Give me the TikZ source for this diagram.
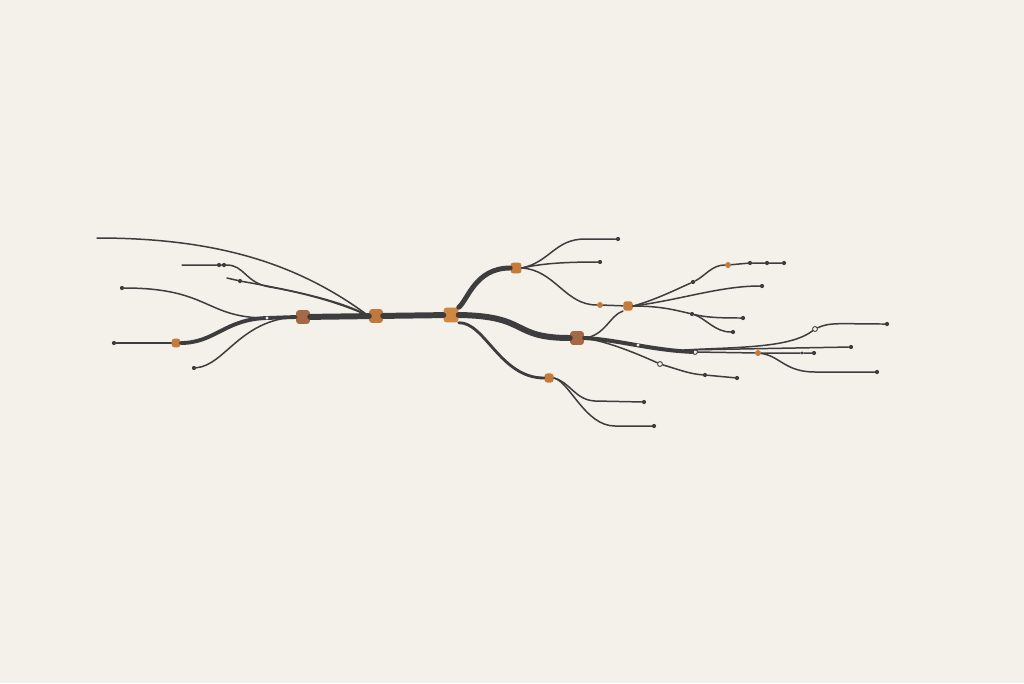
\documentclass[tikz,border=0pt]{standalone}
\usepackage{tikz}
\definecolor{paper}{HTML}{F4F0EA}
\definecolor{wire}{HTML}{3D3D3D}
\definecolor{amber}{HTML}{C57B3B}
\definecolor{rust}{HTML}{A56A45}
\definecolor{light}{HTML}{CF8844}

\begin{document}
\begin{tikzpicture}[x=0.02cm,y=-0.02cm,line cap=round,
  hub/.style={rectangle,rounded corners=1.6pt,fill=amber,inner sep=0pt,minimum size=7.8pt},
  knot/.style={circle,fill=amber,inner sep=0pt,minimum size=3.4pt},
  tip/.style={circle,fill=wire,inner sep=0pt,minimum size=2.4pt},
  ring/.style={circle,fill=paper,draw=wire,line width=0.5pt,inner sep=0pt,minimum size=2.8pt},
  spot/.style={circle,fill=paper,inner sep=0pt,minimum size=1.8pt},
  twig/.style={draw=wire,line width=0.85pt},
  limb/.style={draw=wire,line width=2.8pt},
  trunk/.style={draw=wire,line width=3.4pt}]
\fill[paper] (0,0) rectangle (1024,683);
\useasboundingbox (0,0) rectangle (1024,683);
% hubs
\node[hub,minimum size=5pt] (hA) at (176,343) {};
\node[hub,fill=rust] (hB) at (303,317) {};
\node[hub,fill=amber!85!rust] (hC) at (376,316) {};
\node[hub,fill=light,minimum size=8.4pt] (hD) at (451,315) {};
\node[hub,minimum size=6.2pt] (hE) at (516,268) {};
\node[hub,fill=rust] (hF) at (577,338) {};
\node[hub,minimum size=5.4pt] (hG) at (628,306) {};
\node[hub,minimum size=5.2pt] (hH) at (549,378) {};
\node[knot] (oA) at (600,305) {};
\node[knot] (oB) at (728,265) {};
\node[knot] (oC) at (758,353) {};
% end dots
\node[tip] (d1) at (114,343) {};
\node[tip] (d2) at (122,288) {};
\node[tip] (d3) at (194,368) {};
\node[tip] (d4) at (219,265) {};
\node[tip] (d5) at (224,265) {};
\node[tip] (d6) at (240,281) {};
\node[tip] (d7) at (618,239) {};
\node[tip] (d8) at (600,262) {};
\node[tip] (d9) at (693,282) {};
\node[tip] (d10) at (750,263) {};
\node[tip] (d11) at (767,263) {};
\node[tip] (d12) at (784,263) {};
\node[tip] (d13) at (762,286) {};
\node[tip] (d14) at (692,314) {};
\node[tip] (d15) at (743,318) {};
\node[tip] (d16) at (733,332) {};
\node[tip] (d17) at (887,324) {};
\node[tip] (d18) at (851,347) {};
\node[tip] (d19) at (814,353) {};
\node[tip,minimum size=1.8pt] (d20) at (802,353) {};
\node[tip] (d21) at (877,372) {};
\node[tip] (d22) at (705,375) {};
\node[tip] (d23) at (737,378) {};
\node[tip] (d24) at (644,402) {};
\node[tip] (d25) at (654,426) {};
\node[ring] (r1) at (815,329) {};
\node[ring] (r2) at (660,364) {};
\node[ring] (w3) at (695,352) {};
\coordinate (e1) at (97,238);
\coordinate (e2) at (182,265);
\coordinate (e3) at (227,278);
\coordinate (j1) at (267,318);
\coordinate (j2) at (638,345);
\coordinate (tE) at (684,350);

% left side
\draw[twig] (d1) -- (hA);
\draw[draw=wire,line width=2.2pt] (hA.east) .. controls (215,343) and (225,319) .. (j1) -- (hB.west);
\draw[twig] (d2) .. controls (210,288) and (205,318) .. (j1);
\draw[twig] (d3) .. controls (225,365) and (240,320) .. (hB.west);
\draw[twig] (e1) .. controls (220,238) and (300,265) .. (hC.west);
\draw[twig] (e2) -- (d4) -- (d5) .. controls (245,265) and (245,283) .. (270,287) .. controls (310,294) and (345,305) .. (hC.west);
\draw[twig] (e3) -- (d6) .. controls (290,290) and (340,300) .. (hC.west);

% trunk
\draw[trunk] (hB) -- (hC);
\draw[trunk] (hC) -- (hD);
\draw[trunk] (hD.east) .. controls (530,316) and (510,338) .. (hF.west);
\draw[limb] (hD.north east) .. controls (468,300) and (475,268) .. (hE.west);
\draw[draw=wire,line width=1.6pt] (hD.south east) .. controls (485,322) and (500,378) .. (hH.west);

% upper branch
\draw[twig] (hE.east) .. controls (550,262) and (555,239) .. (585,239) -- (d7);
\draw[twig] (hE.east) .. controls (540,264) and (560,262) .. (d8);
\draw[twig] (hE.east) .. controls (555,270) and (565,305) .. (oA);
\draw[twig] (oA) -- (hG);
\draw[twig] (hF.east) .. controls (605,336) and (610,315) .. (hG.south west);
\draw[twig] (hG.east) .. controls (655,300) and (675,290) .. (d9) .. controls (705,276) and (712,265) .. (oB) -- (d10) -- (d11) -- (d12);
\draw[twig] (hG.east) .. controls (680,300) and (720,286) .. (d13);
\draw[twig] (hG.east) .. controls (660,306) and (675,310) .. (d14);
\draw[twig] (d14) .. controls (705,317) and (715,318) .. (d15);
\draw[twig] (d14) .. controls (705,318) and (715,332) .. (d16);

% lower branch
\draw[twig] (hH.east) .. controls (570,382) and (575,400) .. (595,401) -- (d24);
\draw[twig] (hH.east) .. controls (570,382) and (585,426) .. (615,426) -- (d25);

% right side
\draw[draw=wire,line width=2.3pt] (hF.east) .. controls (620,340) and (650,350) .. (w3);
\draw[twig] (w3) -- (oC) -- (d20) -- (d19);
\draw[twig] (tE) .. controls (740,347) and (790,348) .. (r1) .. controls (830,322) and (840,324) .. (d17);
\draw[twig] (tE) -- (d18);
\draw[twig] (oC) .. controls (780,356) and (785,372) .. (815,372) -- (d21);
\draw[twig] (hF.east) .. controls (610,342) and (640,355) .. (r2) .. controls (680,370) and (690,374) .. (d22) -- (d23);

\node[spot] (w1) at (j1) {};
\node[spot] (w2) at (j2) {};
\end{tikzpicture}
\end{document}
